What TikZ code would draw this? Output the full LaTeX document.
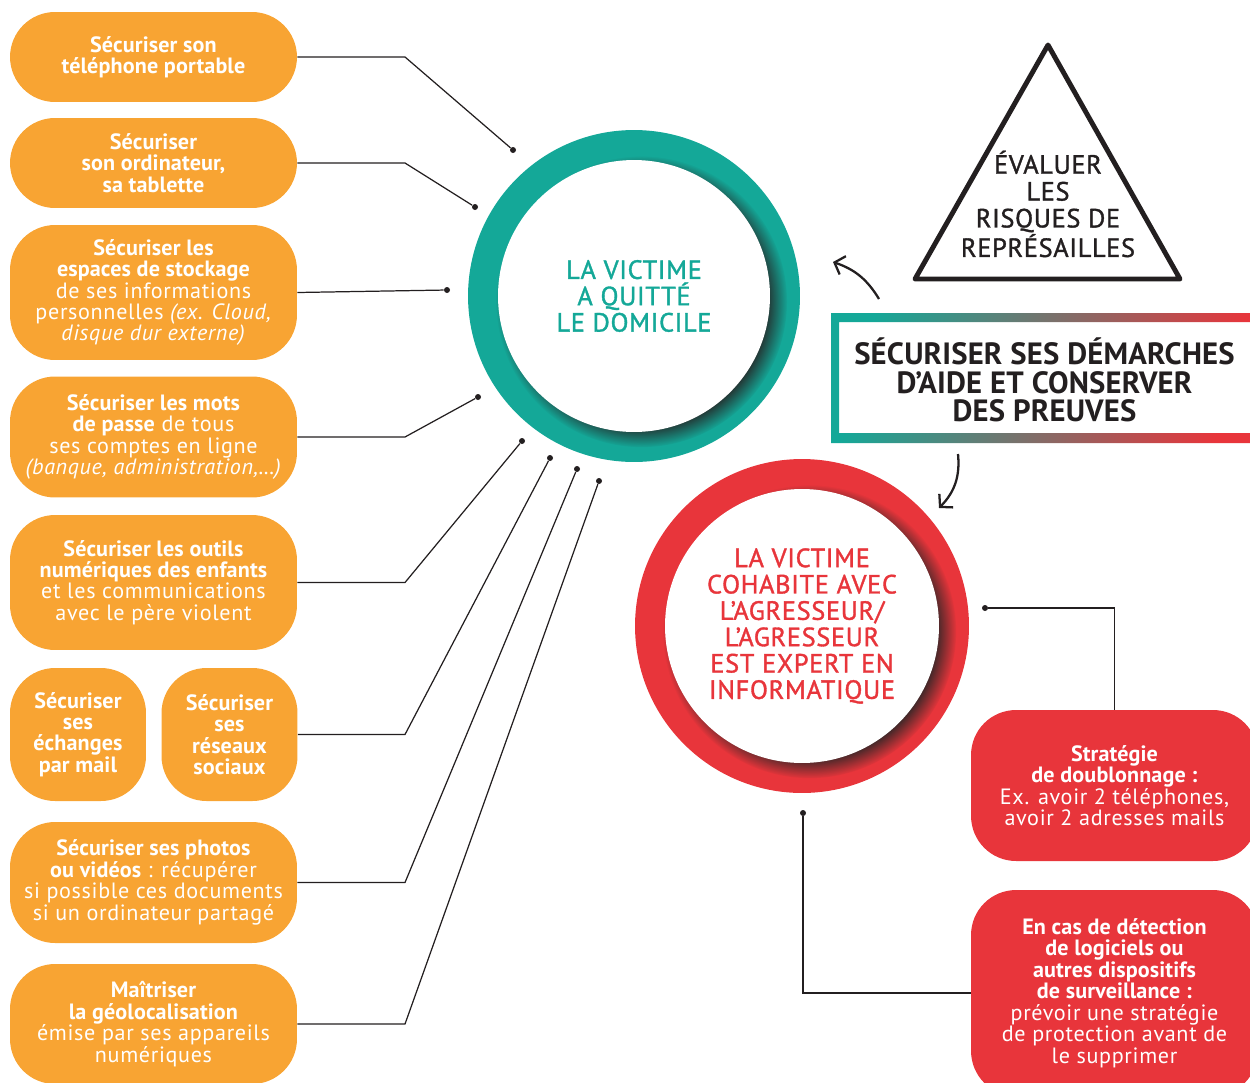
\documentclass[tikz,border=0pt]{standalone}
\usepackage{fontspec}
\setmainfont{PT Sans}[LetterSpace=3, BoldFeatures={LetterSpace=0.5}]
\newfontfamily\medfont{PT Sans}[FakeBold=1.3, LetterSpace=2.5]
\usepackage{xcolor}
\usepackage{tikz}
\usetikzlibrary{arrows.meta, shadows}
\definecolor{orangebox}{HTML}{F8A433}
\definecolor{tealring}{HTML}{14A898}
\definecolor{redring}{HTML}{E8353B}
\definecolor{darkline}{HTML}{231F20}

\begin{document}
\begin{tikzpicture}[
  x=0.02cm, y=-0.02cm,
  obox/.style={rectangle, fill=orangebox, text=white, rounded corners=0.9cm,
               minimum width=5.74cm, inner sep=0pt, align=center,
               font=\fontsize{12.6}{12.2}\selectfont},
  rbox/.style={obox, fill=redring},
  ring/.style={circle, inner sep=0pt},
  disk/.style={circle, fill=white, inner sep=0pt, align=center,
               font=\medfont\fontsize{15}{15}\selectfont,
               circular drop shadow={shadow xshift=4pt, shadow yshift=-3pt,
                                     shadow scale=1.07, opacity=0.95, fill=black!85}},
  link/.style={draw=darkline, line width=0.7pt},
  dot/.style={circle, fill=darkline, inner sep=0pt, minimum size=0.12cm},
  turnarrow/.style={-{Straight Barb[length=5pt, width=11pt]}, line width=1.3pt, color=darkline}
]
\clip (0,0) rectangle (1250,1082);

% Left column
\node[obox, minimum height=1.8cm] (b1) at (153.5,57)
  {\textbf{Sécuriser son}\\\textbf{téléphone portable}};
\node[obox, minimum height=1.8cm] (b2) at (153.5,163)
  {\textbf{Sécuriser}\\\textbf{son ordinateur,}\\\textbf{sa tablette}};
\node[obox, minimum height=2.7cm] (b3) at (153.5,292.5)
  {\textbf{Sécuriser les}\\\textbf{espaces de stockage}\\de ses informations\\personnelles \textit{(ex. Cloud,}\\\textit{disque dur externe)}};
\node[obox, minimum height=2.42cm] (b4) at (153.5,437)
  {\textbf{Sécuriser les mots}\\\textbf{de passe} de tous\\ses comptes en ligne\\\textit{(banque, administration,...)}};
\node[obox, minimum height=2.7cm] (b5) at (153.5,582.5)
  {\textbf{Sécuriser les outils}\\\textbf{numériques des enfants}\\et les communications\\avec le père violent};
\node[obox, minimum width=2.72cm, minimum height=2.66cm] (b6a) at (78,734.5)
  {\textbf{Sécuriser}\\\textbf{ses}\\\textbf{échanges}\\\textbf{par mail}};
\node[obox, minimum width=2.72cm, minimum height=2.66cm] (b6b) at (229.5,734.5)
  {\textbf{Sécuriser}\\\textbf{ses}\\\textbf{réseaux}\\\textbf{sociaux}};
\node[obox, minimum height=2.42cm] (b7) at (153.5,882.5)
  {\textbf{Sécuriser ses photos}\\\textbf{ou vidéos} : récupérer\\si possible ces documents\\si un ordinateur partagé};
\node[obox, minimum height=2.4cm] (b8) at (153.5,1024)
  {\textbf{Maîtriser}\\\textbf{la géolocalisation}\\émise par ses appareils\\numériques};

% Victim has left home
\node[ring, fill=tealring, minimum size=6.64cm] (leftring) at (634,296) {};
\node[disk, minimum size=5.44cm, text=tealring] (left) at (634,296)
  {LA VICTIME\\A QUITTÉ\\LE DOMICILE};

% Victim lives with the aggressor
\node[ring, fill=redring, minimum size=6.68cm] (withring) at (802,626) {};
\node[disk, minimum size=5.48cm, text=redring] (with) at (802,626)
  {LA VICTIME\\COHABITE AVEC\\L’AGRESSEUR/\\L’AGRESSEUR\\EST EXPERT EN\\INFORMATIQUE};

% Risk triangle
\draw[line width=2.8pt, line join=round, color=darkline]
  (1048,45) -- (1180,279) -- (915,279) -- cycle;
\node[font=\medfont\fontsize{15}{15.3}\selectfont, text=darkline, align=center] (risk) at (1048,204)
  {ÉVALUER\\LES\\RISQUES DE\\REPRÉSAILLES};

% Evidence frame
\shade[even odd rule, left color=tealring, right color=redring, shading angle=75]
  (831,313) rectangle (1258,443) (839,322) rectangle (1250,433);
\node[font=\fontsize{17.5}{16.2}\selectfont\bfseries, text=darkline, align=center] (steps) at (1044.5,380)
  {SÉCURISER SES DÉMARCHES\\D’AIDE ET CONSERVER\\DES PREUVES};

% Right boxes
\node[rbox, minimum height=3.02cm] (s1) at (1114.5,785.5)
  {\textbf{Stratégie}\\\textbf{de doublonnage :}\\Ex. avoir 2 téléphones,\\avoir 2 adresses mails};
\node[rbox, minimum height=4.12cm] (s2) at (1114.5,993)
  {\textbf{En cas de détection}\\\textbf{de logiciels ou}\\\textbf{autres dispositifs}\\\textbf{de surveillance :}\\prévoir une stratégie\\de protection avant de\\le supprimer};

% Anchor dots
\coordinate (kx) at (405,0);
\node[dot] (p1) at (513,150) {};
\node[dot] (p2) at (475,207) {};
\node[dot] (p3) at (447,290) {};
\node[dot] (p4) at (478,397) {};
\node[dot] (p5) at (522,441) {};
\node[dot] (p6) at (550,458) {};
\node[dot] (p7) at (577,469) {};
\node[dot] (p8) at (599,481) {};
\node[dot] (q1) at (985,608) {};
\node[dot] (q2) at (803,813) {};

% Connectors
\draw[link] (b1.east) -- (b1.east -| kx) -- (p1);
\draw[link] (b2.east) -- (b2.east -| kx) -- (p2);
\draw[link] (b3.east) -- (p3);
\draw[link] (b4.east) -- (b4.east -| kx) -- (p4);
\draw[link] (b5.east) -- (b5.east -| kx) -- (p5);
\draw[link] (b6b.east) -- (b6b.east -| kx) -- (p6);
\draw[link] (b7.east) -- (b7.east -| kx) -- (p7);
\draw[link] (b8.east) -- (b8.east -| kx) -- (p8);
\draw[link] (q1) -| (s1.north);
\draw[link] (q2) |- (s2.west);

% Curved arrows
\coordinate (a1) at (879,299);
\coordinate (a2) at (833,262);
\coordinate (a3) at (958,454);
\coordinate (a4) at (939,508);
\draw[turnarrow] (a1) to[bend right=20] (a2);
\draw[turnarrow] (a3) to[bend left=25] (a4);
\end{tikzpicture}
\end{document}
